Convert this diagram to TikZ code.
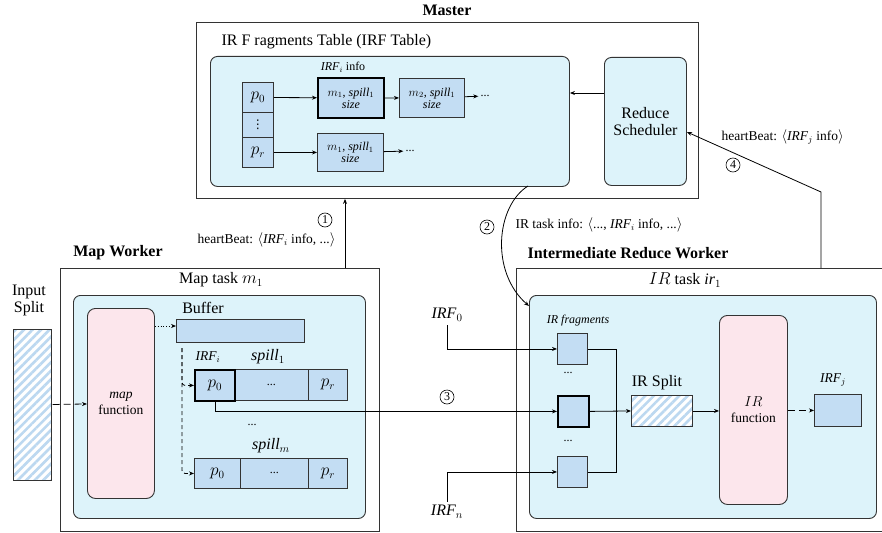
\documentclass[tikz,border=0pt]{standalone}
\usepackage{fontspec}
\setmainfont{Liberation Serif}
\newfontfamily\symfont{DejaVu Sans}
\usetikzlibrary{arrows.meta,patterns.meta,calc}
\definecolor{panelbg}{HTML}{DDF3FA}
\definecolor{cellbg}{HTML}{C3DDF3}
\definecolor{pinkbg}{HTML}{FCE6EC}
\definecolor{hatchc}{HTML}{BCD8F0}
\definecolor{edge}{HTML}{333333}
\newcommand\FMain{\fontsize{16}{17}\selectfont}
\newcommand\FLab{\fontsize{13.5}{16}\selectfont}
\newcommand\FSmall{\fontsize{12}{14}\selectfont}
\tikzset{
  box/.style={draw=edge, line width=0.9pt},
  panel/.style={draw=edge, fill=panelbg, rounded corners=7pt, line width=0.9pt},
  cell/.style={draw=edge, fill=cellbg, line width=0.9pt, inner sep=0pt},
  thickcell/.style={cell, line width=1.8pt, draw=black},
  fnbox/.style={draw=edge, fill=pinkbg, rounded corners=8pt, line width=0.9pt, align=center},
  hatchbox/.style={draw=edge, line width=0.9pt, preaction={fill=white}, pattern={Lines[angle=45,distance=6pt,line width=2.6pt]}, pattern color=hatchc},
  arr/.style={-{Stealth[length=5pt,width=4pt]}, line width=0.8pt},
  dsh/.style={dash pattern=on 7pt off 4pt},
  circ/.style={circle, draw, line width=0.6pt, inner sep=0pt, minimum size=14pt, font=\fontsize{12}{12}\selectfont},
  nw/.style={anchor=north west}
}
\begin{document}
\begin{tikzpicture}[x=1pt,y=-1pt]
\useasboundingbox (0,0) rectangle (882,532);
\clip (0,0) rectangle (882,532);
\coordinate (y93) at (0,93);
\coordinate (y132) at (0,132);

% ---------------- Master
\node[box, nw, minimum width=502, minimum height=176] (master) at (196,22) {};
\node[font=\FMain\bfseries] (mastert) at (447,10) {Master};
\node[panel, nw, minimum width=359, minimum height=130] (irftable) at (210,56) {};
\node[font=\FMain, anchor=west] (irftt) at (218,42) {IR F ragments Table (IRF Table)};
\node[panel, nw, minimum width=82, minimum height=128, align=center, font=\FMain] (sched) at (604,57) {Reduce\\Scheduler};

\node[cell, nw, minimum width=31, minimum height=30, font=\FMain] (tp0) at (242,82) {$p_0$};
\node[cell, nw, minimum width=31, minimum height=25, font=\fontsize{12}{12}\symfont] (tvd) at (242,112) {⋮};
\node[cell, nw, minimum width=31, minimum height=30, font=\FMain] (tpr) at (242,137) {$p_r$};

\node[thickcell, nw, minimum width=66, minimum height=40, align=center, font=\FSmall] (tb1) at (317,77) {$m_1$, \textit{spill}$_1$\\[-2pt]\textit{size}};
\node[cell, nw, minimum width=65, minimum height=39, align=center, font=\FSmall] (tb2) at (399,78) {$m_2$, \textit{spill}$_1$\\[-2pt]\textit{size}};
\node[cell, nw, minimum width=66, minimum height=38, align=center, font=\FSmall] (tb3) at (317,133) {$m_1$, \textit{spill}$_1$\\[-2pt]\textit{size}};
\node[font=\FSmall, inner sep=2pt] (td1) at (485,96) {...};
\node[font=\FSmall, inner sep=2pt] (td2) at (410,151) {...};
\node[font=\FSmall] (irfinfo) at (343,67) {\textit{IRF}$_i$ info};

\draw[arr] (tp0) -- (tb1);
\draw[arr] (tb1) -- (tb2);
\draw[arr] (tb2) -- (td1);
\draw[arr] (tpr) -- (tb3);
\draw[arr] (tb3) -- (td2);
\draw[arr] (sched.west |- y93) -- (irftable.east |- y93);

% ---------------- Map worker
\node[font=\FMain\bfseries] (mwt) at (118,253) {Map Worker};
\node[box, nw, minimum width=319, minimum height=263] (mapouter) at (60,268) {};
\node[font=\FMain] (mtask) at (221,280) {Map task $m_1$};
\node[panel, nw, minimum width=292, minimum height=223] (mappanel) at (73,295) {};
\node[fnbox, nw, minimum width=67, minimum height=190, font=\FLab] (mapfn) at (87,308) {\textit{map}\\function};
\node[hatchbox, nw, minimum width=38, minimum height=151] (insplit) at (12,328) {};
\node[font=\FMain, align=center] (inlbl) at (29,300) {Input\\Split};
\draw[arr, dsh] (insplit) -- (mapfn);

\node[font=\FMain] (buflbl) at (203,308) {Buffer};
\node[cell, nw, minimum width=128, minimum height=23] (buffer) at (176,319) {};
\draw[arr, dotted] (mapfn.east |- 0,326) -- (buffer.west |- 0,326);

\node[cell, nw, minimum width=74, minimum height=31, font=\FSmall] (s1d) at (234,369) {...};
\node[cell, nw, minimum width=39, minimum height=31, font=\FMain] (s1pr) at (308,369) {$p_r$};
\node[thickcell, nw, minimum width=40, minimum height=31, font=\FMain] (s1p0) at (194,369) {$p_0$};
\node[font=\FLab] (irfil) at (208,357) {\textit{IRF}$_i$};
\node[font=\FMain] (sp1l) at (268,357) {\textit{spill}$_1$};
\node[font=\FSmall] (mdots) at (252,425) {...};

\node[cell, nw, minimum width=46, minimum height=30, font=\FMain] (smp0) at (194,458) {$p_0$};
\node[cell, nw, minimum width=68, minimum height=30, font=\FSmall] (smd) at (240,458) {...};
\node[cell, nw, minimum width=39, minimum height=30, font=\FMain] (smpr) at (308,458) {$p_r$};
\node[font=\FMain] (spml) at (271,446) {\textit{spill}$_m$};

\coordinate (dstart) at (182,348);
\draw[arr, dash pattern=on 4pt off 3pt, rounded corners=3pt] (dstart) |- (s1p0.west);
\draw[arr, dash pattern=on 4pt off 3pt, rounded corners=3pt] (dstart) |- (smp0.west);

% heartbeat 1
\coordinate (h1) at (345,268);
\draw[arr] (h1) -- (h1 |- master.south);
\node[circ] (c1) at (325,220) {1};
\node[font=\FLab, anchor=east] (hb1) at (339,240) {heartBeat: $\langle$\textit{IRF}$_i$ info, ...$\rangle$};

% ---------------- IR worker
\node[font=\FMain\bfseries] (irwt) at (628,253) {Intermediate Reduce Worker};
\node[box, nw, minimum width=380, minimum height=263] (irouter) at (516,268) {};
\node[font=\FMain] (irtask) at (685,280) {$IR$ task \textit{ir}$_1$};
\node[panel, nw, minimum width=347, minimum height=223] (irpanel) at (529,295) {};
\node[font=\FSmall] (irfrag) at (578,321) {\textit{IR fragments}};
\node[cell, nw, minimum width=30, minimum height=31] (f0) at (557,333) {};
\node[thickcell, nw, minimum width=31, minimum height=31] (fmid) at (557,395) {};
\node[cell, nw, minimum width=30, minimum height=31] (fn) at (557,456) {};
\node[font=\FSmall] (fd1) at (568,373) {...};
\node[font=\FSmall] (fd2) at (568,441) {...};
\coordinate (mx) at (616,0);
\draw[line width=0.8pt] (f0.east) -- (f0.east -| mx) -- (fn.east -| mx) -- (fn.east);

\node[hatchbox, nw, minimum width=61, minimum height=31] (irsplit) at (631,395) {};
\node[font=\FMain] (irsl) at (657,383) {IR Split};
\draw[arr] (fmid.east) -- (irsplit.west);
\node[fnbox, nw, minimum width=68, minimum height=189, font=\FLab] (irfn) at (719,315) {$IR$\\function};
\draw[arr] (irsplit.east) -- (irfn.west |- irsplit.east);
\node[cell, nw, minimum width=47, minimum height=32] (irfj) at (814,394) {};
\node[font=\FLab] (irfjl) at (833,380) {\textit{IRF}$_j$};
\draw[arr, dsh] (irfn.east |- irfj.west) -- (irfj.west);

\node[font=\FMain] (irf0) at (447,315) {\textit{IRF}$_0$};
\draw[arr] (irf0.south) |- (f0.west);
\node[font=\FMain] (irfnl) at (447,512) {\textit{IRF}$_n$};
\draw[arr] (irfnl.north) |- (fn.west);

% link 3
\draw[arr] (s1p0.south) |- (fmid.west);
\node[circ] (c3) at (447,397) {3};

% link 2
\coordinate (c2s) at (528,186);
\coordinate (c2e) at (529,306);
\draw[arr] (c2s) .. controls (496,206) and (490,272) .. (c2e);
\node[circ] (c2) at (487,227) {2};
\node[font=\FLab, anchor=west] (l2) at (512,225) {IR task info: $\langle$..., \textit{IRF}$_i$ info, ...$\rangle$};

% link 4
\coordinate (h4) at (821,268);
\coordinate (h4b) at (821,192);
\draw[arr] (h4) -- (h4b) -- (sched.east |- y132);
\node[circ] (c4) at (733,165) {4};
\node[font=\FLab, anchor=west] (l4) at (718,137) {heartBeat: $\langle$\textit{IRF}$_j$ info$\rangle$};
\end{tikzpicture}
\end{document}
